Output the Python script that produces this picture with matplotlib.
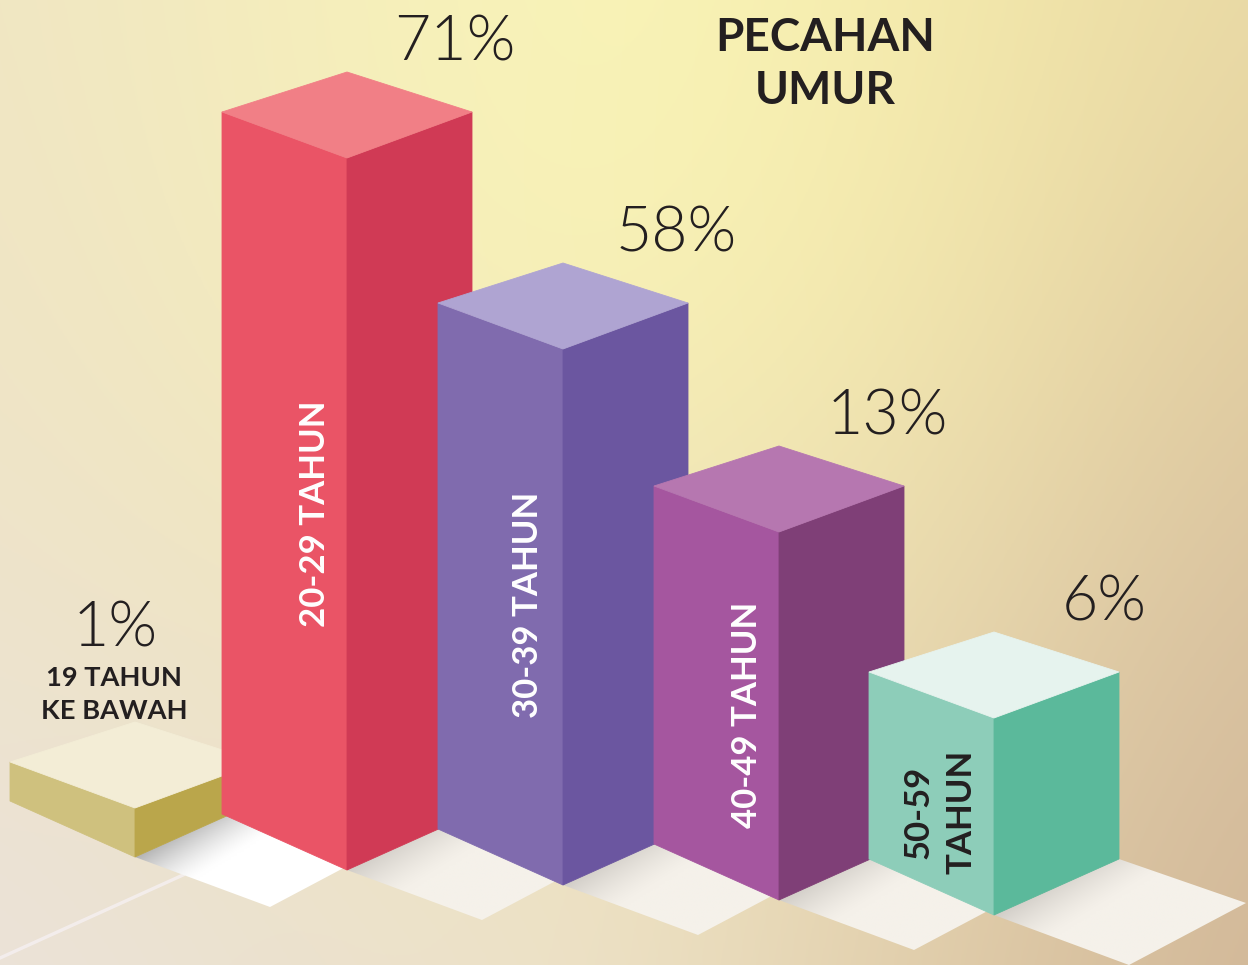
"""
plot.py
Pecahan umur - faux 3D bar chart
"""

import numpy as np
import matplotlib
matplotlib.use('Agg')
from matplotlib import pyplot as plt
from matplotlib import font_manager
from matplotlib.colors import to_rgb
from matplotlib.patches import Polygon

# Data
categories = ["19 TAHUN\nKE BAWAH", "20-29 TAHUN", "30-39 TAHUN", "40-49 TAHUN", "50-59\nTAHUN"]
percent_labels = ["1%", "71%", "58%", "13%", "6%"]
# drawn height of the front edge (not proportional to the %)
bar_heights = [49, 712, 536, 368, 197]

left_colors = ["#CFC17E", "#EA5466", "#806BAE", "#A5569F", "#8DCDB9"]
right_colors = ["#BAA64B", "#D03A55", "#6B56A0", "#7F3F77", "#5BB99B"]
top_colors = ["#F3EDD6", "#F17F86", "#AFA4D2", "#B677B0", "#E6F3EE"]

bg_colors = [
    ["#F0E6C4", "#F5EEBB", "#FAF6B8", "#F5EBAB", "#E9D9A5"],
    ["#EFE4C6", "#F4ECBC", "#F9F3B5", "#F2E6AE", "#E0CBA0"],
    ["#EDE3CE", "#EEE3C3", "#EFE4BC", "#E8D8AE", "#D6BE9E"],
    ["#EBE3DC", "#EBE1CE", "#EEE3C8", "#DFCBA8", "#D0B596"],
]

W, H = 1248, 965
TEXT = "#231F20"

# layout of the fake 3D projection (pixels)
BASE_X, BASE_Y = 135, 857
STEP_X = [0, 212, 428, 644, 859]
STEP_Y = [0, 13, 28, 43, 58]
HALF_W = 125
BASE_DROP = 56
TOP_DROP = 46
TOP_RISE = 40
PCT_DX = [0, 108, 113, 108, 110]

# Lato Light: weight='light' resolves to the hairline cut, so look for the file
light_font = None
for f in font_manager.fontManager.ttflist:
    if f.fname.endswith('Lato-Light.ttf'):
        light_font = font_manager.FontProperties(fname=f.fname, size=45)
        break
if light_font is None:
    light_font = font_manager.FontProperties(family='Lato', size=45)

fig = plt.figure(figsize=(W / 100, H / 100), dpi=100)
ax = fig.add_axes([0, 0, 1, 1])
ax.axis('off')

# background
bg = np.array([[to_rgb(c) for c in row] for row in bg_colors])
ax.imshow(bg, extent=(-156, 1404, 1127, -161), aspect='auto', interpolation='bicubic', zorder=0)

# thin light streak on the floor
ax.plot([0, 183], [958, 875], color='#F6F0F2', lw=2.4, alpha=0.8, zorder=1)


def draw_tile(cx, cy, colour, shade):
    """Floor tile with its shadow, to the right of a bar"""
    a = np.array([cx, cy], dtype=float)
    b = a + [HALF_W, -BASE_DROP]
    tip = a + [135, 50]
    c = tip + [HALF_W - 8, -BASE_DROP - 6]
    pts = np.array([a, b, c, tip])
    x0, y0 = pts.min(axis=0)
    x1, y1 = pts.max(axis=0)
    xx, yy = np.meshgrid(np.linspace(x0, x1, 80), np.linspace(y0, y1, 80))
    # distance from the bar edge, in tile widths
    t = ((xx - cx) * 0.41 + (yy - cy) * 0.91) / 80
    s = (xx - cx) / HALF_W
    mix = np.clip(1 - (t * 1.5 + s * 0.35), 0, 1)[..., None] ** 1.4
    img = np.array(to_rgb(colour)) * (1 - mix) + np.array(to_rgb(shade)) * mix
    im = ax.imshow(img, extent=(x0, x1, y1, y0), aspect='auto', interpolation='bilinear', zorder=2)
    im.set_clip_path(Polygon(pts, transform=ax.transData))


def draw_bar(cx, cy, height, left, right, top, z):
    """Three faces of a box: cx, cy is the front bottom corner"""
    front_y = cy - height
    left_top = (cx - HALF_W, front_y - TOP_DROP)
    right_top = (cx + HALF_W, front_y - TOP_DROP)
    front_top = (cx, front_y)
    back_top = (cx, front_y - TOP_DROP - TOP_RISE)
    left_base = (cx - HALF_W, cy - BASE_DROP)
    right_base = (cx + HALF_W, cy - BASE_DROP)
    faces = [
        ([left_top, front_top, (cx, cy), left_base], left),
        ([front_top, right_top, right_base, (cx, cy)], right),
        ([left_top, back_top, right_top, front_top], top),
    ]
    for pts, col in faces:
        ax.add_patch(Polygon(pts, closed=True, facecolor=col, edgecolor=col, lw=0.6, zorder=z))


centers = [(BASE_X + dx, BASE_Y + dy) for dx, dy in zip(STEP_X, STEP_Y)]

for i, (cx, cy) in enumerate(centers):
    if i == 0:
        draw_tile(cx, cy, '#FFFFFF', '#B4B4B4')
    else:
        draw_tile(cx, cy, '#F5F1EA', '#D2CEC8')

for i, (cx, cy) in enumerate(centers):
    draw_bar(cx, cy, bar_heights[i], left_colors[i], right_colors[i], top_colors[i], 3 + i)

# percentages
pct_font = dict(fontproperties=light_font, color=TEXT, ha='center', va='center', zorder=10)
for i, (cx, cy) in enumerate(centers):
    back_y = cy - bar_heights[i] - TOP_DROP - TOP_RISE
    if i == 0:
        ax.text(115, 629, percent_labels[i], **pct_font)
    else:
        ax.text(cx + PCT_DX[i], back_y - 29, percent_labels[i], **pct_font)

# title
ax.text(825, 38, "PECAHAN", family='Lato', weight='bold', fontsize=33, color=TEXT, ha='center', va='center', zorder=10)
ax.text(825, 91, "UMUR", family='Lato', weight='bold', fontsize=33, color=TEXT, ha='center', va='center', zorder=10)

# category labels
line1, line2 = categories[0].split("\n")
ax.text(114, 678, line1, family='Lato', weight='bold', fontsize=19.6, color=TEXT, ha='center', va='center', zorder=10)
ax.text(114, 711, line2, family='Lato', weight='bold', fontsize=19.6, color=TEXT, ha='center', va='center', zorder=10)

rot_font = dict(family='Lato', weight='bold', fontsize=25, rotation=90, ha='center', va='center', zorder=10)
ax.text(315, 514, categories[1], color='white', **rot_font)
ax.text(528, 605, categories[2], color='white', **rot_font)
ax.text(747, 715, categories[3], color='white', **rot_font)
part1, part2 = categories[4].split("\n")
ax.text(919, 812, part1, color=TEXT, **rot_font)
ax.text(961, 812, part2, color=TEXT, **rot_font)

ax.set_xlim(0, W)
ax.set_ylim(H, 0)

fig.savefig('out.png', dpi=100)
